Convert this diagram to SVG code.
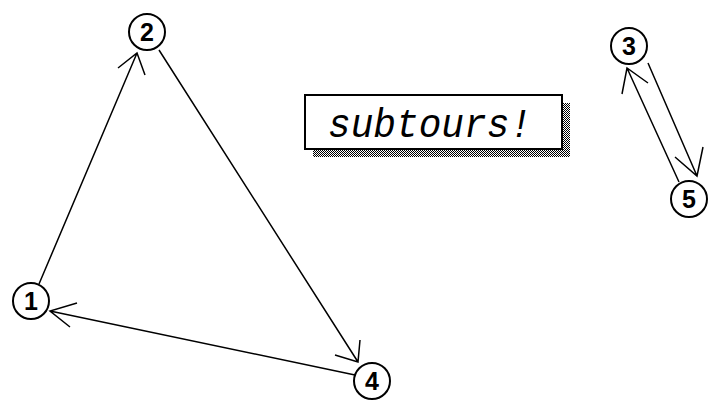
<svg xmlns="http://www.w3.org/2000/svg" width="711" height="400" viewBox="0 0 711 400">
<style>
.n circle{fill:#fff;stroke:#000;stroke-width:2}
.n text{font-family:"Liberation Sans",Arial,sans-serif;font-size:25px;font-weight:bold;text-anchor:middle;fill:#000}
.e{stroke:#000;stroke-width:1.5;fill:none}
</style>
<defs>
<pattern id="dots" width="2" height="2" patternUnits="userSpaceOnUse">
<rect x="0" y="0" width="1" height="1" fill="#000"/>
<rect x="1" y="1" width="1" height="1" fill="#000"/>
</pattern>
</defs>
<rect width="711" height="400" fill="#fff"/>
<g id="connectors">
<path class="e" d="M39,284 L137,53 M118,68 L137,53 L145,75"/>
<path class="e" d="M159,50 L358,362 M335,355 L358,362 L360,340"/>
<path class="e" d="M355,375 L50,311 M77,303 L50,311 L70,327"/>
<path class="e" d="M648,63 L697,176 M675,157 L697,176 L703,147"/>
<path class="e" d="M679,182 L627,68 M622,94 L627,68 L648,83"/>
</g>
<g id="label">
<rect x="313" y="103" width="257" height="54" fill="url(#dots)"/>
<rect x="305" y="95" width="257" height="54" fill="#fff" stroke="#000" stroke-width="2"/>
<text x="430" y="137" font-family="'Liberation Mono',monospace" font-style="italic" font-size="40" text-anchor="middle" textLength="204" lengthAdjust="spacingAndGlyphs">subtours!</text>
</g>
<g id="node1" class="n"><circle cx="31" cy="301" r="18"/><text x="31" y="310">1</text></g>
<g id="node2" class="n"><circle cx="147" cy="32" r="18"/><text x="147" y="41">2</text></g>
<g id="node3" class="n"><circle cx="629" cy="46" r="18"/><text x="629" y="55">3</text></g>
<g id="node4" class="n"><circle cx="372" cy="381" r="18"/><text x="372" y="390">4</text></g>
<g id="node5" class="n"><circle cx="689" cy="199" r="18"/><text x="689" y="208">5</text></g>
</svg>
